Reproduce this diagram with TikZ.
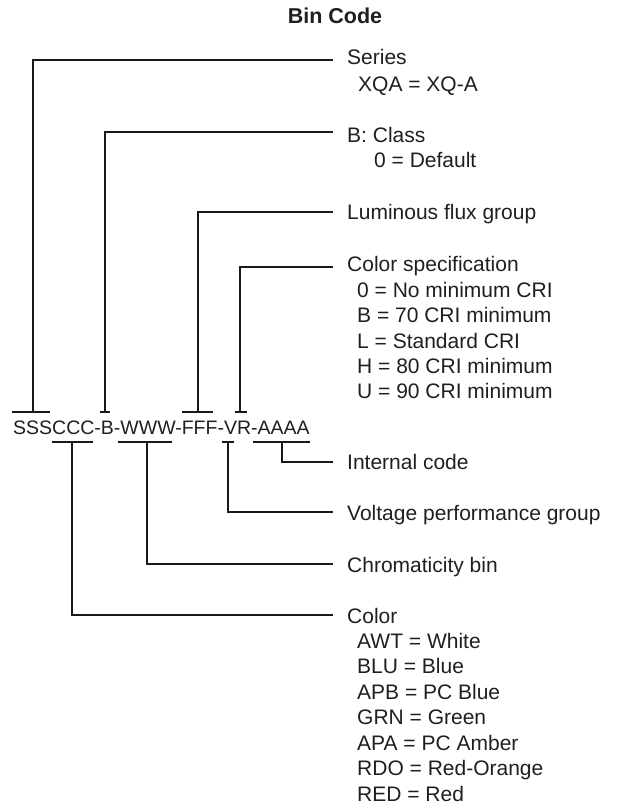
\documentclass[tikz,border=0pt]{standalone}
\usepackage{fontspec}
\setmainfont{Liberation Sans}
\begin{document}
\begin{tikzpicture}[x=1pt,y=-1pt,
  conn/.style={line width=1.6pt, draw=black!90, line join=miter},
  lbl/.style={anchor=base west, inner sep=0pt, text=black!88, font=\fontsize{21}{25}\selectfont},
  codetxt/.style={anchor=base west, inner sep=0pt, text=black!88, font=\fontsize{19.5}{24}\selectfont},
  ttl/.style={anchor=base, inner sep=0pt, text=black!88, font=\fontsize{21.5}{26}\selectfont\bfseries}]
\path[use as bounding box] (0,0) rectangle (618,808);
% title
\node[ttl] (title) at (335,24) {Bin Code};
% code string
\node[codetxt] (code) at (13,434.5) {SSSCCC-B-WWW-FFF-VR-AAAA};
% labels
\node[lbl] (series) at (347,64.5) {Series};
\node[lbl] (seriesA) at (358,91) {XQA = XQ-A};
\node[lbl] (class) at (347,142) {B: Class};
\node[lbl] (classA) at (374,167) {0 = Default};
\node[lbl] (flux) at (347,219) {Luminous flux group};
\node[lbl] (cspec) at (347,271.5) {Color specification};
\node[lbl] (cspecA) at (357,297) {0 = No minimum CRI};
\node[lbl] (cspecB) at (357,322.5) {B = 70 CRI minimum};
\node[lbl] (cspecC) at (357,348) {L = Standard CRI};
\node[lbl] (cspecD) at (357,373) {H = 80 CRI minimum};
\node[lbl] (cspecE) at (357,398.5) {U = 90 CRI minimum};
\node[lbl] (internal) at (347,469) {Internal code};
\node[lbl] (voltage) at (347,520) {Voltage performance group};
\node[lbl] (chroma) at (347,572) {Chromaticity bin};
\node[lbl] (color) at (347,623) {Color};
\node[lbl] (colorA) at (357,648) {AWT = White};
\node[lbl] (colorB) at (357,673.5) {BLU = Blue};
\node[lbl] (colorC) at (357,699) {APB = PC Blue};
\node[lbl] (colorD) at (357,724.5) {GRN = Green};
\node[lbl] (colorE) at (357,750) {APA = PC Amber};
\node[lbl] (colorF) at (357,775.5) {RDO = Red-Orange};
\node[lbl] (colorG) at (357,801) {RED = Red};
% bar coordinates (top)
\coordinate (sL) at (12,412); \coordinate (sR) at (50,412); \coordinate (sM) at (33,412); \coordinate (sE) at (333,60);
\coordinate (bL) at (100,412); \coordinate (bR) at (110,412); \coordinate (bM) at (105,412); \coordinate (bE) at (333,132);
\coordinate (fL) at (182,412); \coordinate (fR) at (213,412); \coordinate (fM) at (198,412); \coordinate (fE) at (333,212);
\coordinate (vL) at (235,412); \coordinate (vR) at (247,412); \coordinate (vM) at (240,412); \coordinate (vE) at (333,267);
% bar coordinates (bottom)
\coordinate (aL) at (253,442); \coordinate (aR) at (310,442); \coordinate (aM) at (282,442); \coordinate (aE) at (333,462);
\coordinate (rL) at (222,442); \coordinate (rR) at (234,442); \coordinate (rM) at (228,442); \coordinate (rE) at (333,512);
\coordinate (wL) at (118,442); \coordinate (wR) at (172,442); \coordinate (wM) at (147,442); \coordinate (wE) at (333,564);
\coordinate (cL) at (52,442); \coordinate (cR) at (93,442); \coordinate (cM) at (72,442); \coordinate (cE) at (333,615);
% bars
\foreach \p in {s,b,f,v,a,r,w,c} { \draw[conn] (\p L) -- (\p R); }
% connectors
\foreach \p in {s,b,f,v,a,r,w,c} { \draw[conn] (\p M) |- (\p E); }
\end{tikzpicture}
\end{document}
